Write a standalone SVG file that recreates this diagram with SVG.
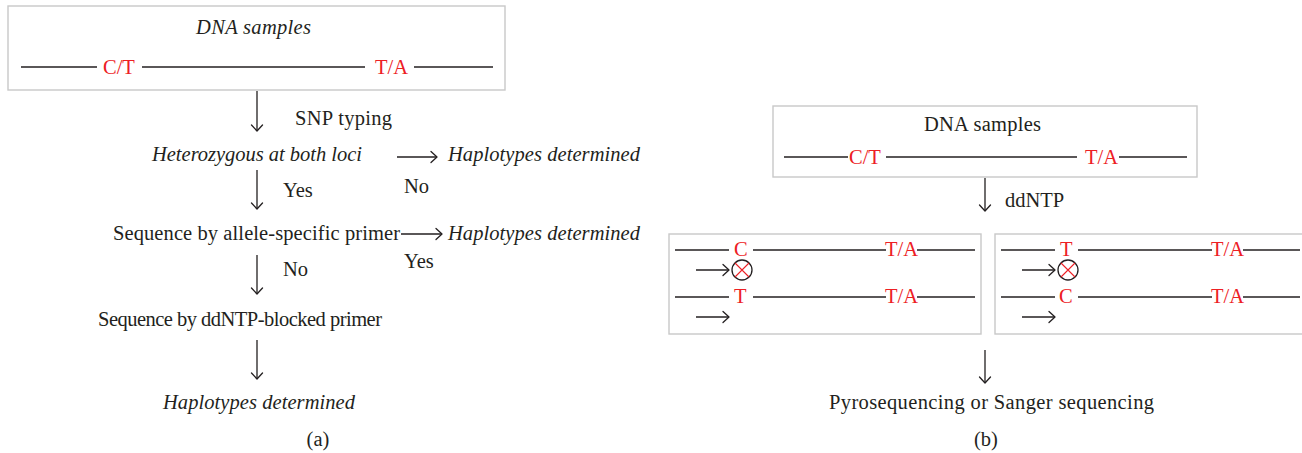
<svg xmlns="http://www.w3.org/2000/svg" width="1302" height="453" viewBox="0 0 1302 453">
<style>
text{font-family:"Liberation Serif","Times New Roman",serif;font-size:20.5px;fill:#231f20}
.i{font-style:italic}
.r{fill:#ed2024}
.box{fill:#fff;stroke:#c8c8c8;stroke-width:1.4}
.ln{stroke:#231f20;stroke-width:1.3;fill:none}
.ah{stroke:#231f20;stroke-width:1.3;fill:none;stroke-linecap:round;stroke-linejoin:round}
.c{text-anchor:middle}
</style>
<defs>
<marker id="head" markerWidth="12" markerHeight="14" refX="8" refY="7" orient="auto" markerUnits="userSpaceOnUse">
<path d="M2,1.5 L8,7 L2,12.5" class="ah"/>
</marker>
</defs>
<rect width="1302" height="453" fill="#fff"/>

<!-- Panel (a) -->
<g id="a-dna">
<rect class="box" x="8" y="6" width="497" height="84"/>
<text class="i" x="196" y="34" textLength="115" lengthAdjust="spacing">DNA samples</text>
<line class="ln" x1="21" y1="67" x2="97" y2="67"/>
<text class="r" x="103" y="74">C/T</text>
<line class="ln" x1="142" y1="67" x2="365" y2="67"/>
<text class="r" x="375" y="74">T/A</text>
<line class="ln" x1="414" y1="67" x2="493" y2="67"/>
</g>
<g id="a-het"><text class="i" x="152" y="161" textLength="210" lengthAdjust="spacing">Heterozygous at both loci</text></g>
<g id="a-hap1"><text class="i" x="448" y="161" textLength="192" lengthAdjust="spacing">Haplotypes determined</text></g>
<g id="a-allele"><text x="113" y="240" textLength="287" lengthAdjust="spacing">Sequence by allele-specific primer</text></g>
<g id="a-hap2"><text class="i" x="448" y="240" textLength="192" lengthAdjust="spacing">Haplotypes determined</text></g>
<g id="a-ddntp"><text x="98" y="326" textLength="284" lengthAdjust="spacing">Sequence by ddNTP-blocked primer</text></g>
<g id="a-hap3"><text class="i" x="163" y="409" textLength="192" lengthAdjust="spacing">Haplotypes determined</text></g>
<g id="a-label"><text class="c" x="318" y="446">(a)</text></g>

<!-- Panel (b) -->
<g id="b-dna">
<rect class="box" x="773" y="106" width="424" height="71"/>
<text x="924" y="131" textLength="117" lengthAdjust="spacing">DNA samples</text>
<line class="ln" x1="784" y1="157" x2="848" y2="157"/>
<text class="r" x="849" y="164">C/T</text>
<line class="ln" x1="886" y1="157" x2="1077" y2="157"/>
<text class="r" x="1085" y="164">T/A</text>
<line class="ln" x1="1119" y1="157" x2="1187" y2="157"/>
</g>
<g id="b-left">
<rect class="box" x="669" y="234" width="312" height="100"/>
<line class="ln" x1="675" y1="250" x2="729" y2="250"/>
<text class="r" x="734" y="256">C</text>
<line class="ln" x1="753" y1="250" x2="886" y2="250"/>
<text class="r" x="885" y="256">T/A</text>
<line class="ln" x1="917" y1="250" x2="975" y2="250"/>
<line class="ln" x1="696" y1="270" x2="729" y2="270" marker-end="url(#head)"/>
<circle cx="742" cy="270" r="10" fill="none" stroke="#231f20" stroke-width="1.3"/>
<path d="M735,263 L749,277 M749,263 L735,277" stroke="#ed2024" stroke-width="1.1"/>
<line class="ln" x1="675" y1="297" x2="729" y2="297"/>
<text class="r" x="734" y="303">T</text>
<line class="ln" x1="753" y1="297" x2="886" y2="297"/>
<text class="r" x="885" y="303">T/A</text>
<line class="ln" x1="917" y1="297" x2="975" y2="297"/>
<line class="ln" x1="696" y1="317" x2="729" y2="317" marker-end="url(#head)"/>
</g>
<g id="b-right">
<rect class="box" x="995" y="234" width="310" height="100"/>
<line class="ln" x1="1001" y1="250" x2="1055" y2="250"/>
<text class="r" x="1060" y="256">T</text>
<line class="ln" x1="1078" y1="250" x2="1212" y2="250"/>
<text class="r" x="1211" y="256">T/A</text>
<line class="ln" x1="1243" y1="250" x2="1300" y2="250"/>
<line class="ln" x1="1022" y1="270" x2="1055" y2="270" marker-end="url(#head)"/>
<circle cx="1068" cy="270" r="10" fill="none" stroke="#231f20" stroke-width="1.3"/>
<path d="M1061,263 L1075,277 M1075,263 L1061,277" stroke="#ed2024" stroke-width="1.1"/>
<line class="ln" x1="1001" y1="297" x2="1055" y2="297"/>
<text class="r" x="1059" y="303">C</text>
<line class="ln" x1="1078" y1="297" x2="1212" y2="297"/>
<text class="r" x="1211" y="303">T/A</text>
<line class="ln" x1="1243" y1="297" x2="1300" y2="297"/>
<line class="ln" x1="1022" y1="317" x2="1055" y2="317" marker-end="url(#head)"/>
</g>
<g id="b-pyro"><text x="829" y="409" textLength="325" lengthAdjust="spacing">Pyrosequencing or Sanger sequencing</text></g>
<g id="b-label"><text class="c" x="986" y="446">(b)</text></g>

<!-- Connectors -->
<g id="connectors">
<line class="ln" x1="257" y1="91" x2="257" y2="131" marker-end="url(#head)"/>
<line class="ln" x1="257" y1="170" x2="257" y2="209" marker-end="url(#head)"/>
<line class="ln" x1="257" y1="255" x2="257" y2="294" marker-end="url(#head)"/>
<line class="ln" x1="257" y1="340" x2="257" y2="379" marker-end="url(#head)"/>
<line class="ln" x1="397" y1="157" x2="437" y2="157" marker-end="url(#head)"/>
<line class="ln" x1="401" y1="234" x2="442" y2="234" marker-end="url(#head)"/>
<line class="ln" x1="985" y1="178" x2="985" y2="211" marker-end="url(#head)"/>
<line class="ln" x1="985" y1="350" x2="985" y2="383" marker-end="url(#head)"/>
<text x="295" y="125" textLength="97" lengthAdjust="spacing">SNP typing</text>
<text x="283" y="197">Yes</text>
<text x="404" y="193">No</text>
<text x="404" y="268">Yes</text>
<text x="283" y="276">No</text>
<text x="1005" y="207">ddNTP</text>
</g>
</svg>
